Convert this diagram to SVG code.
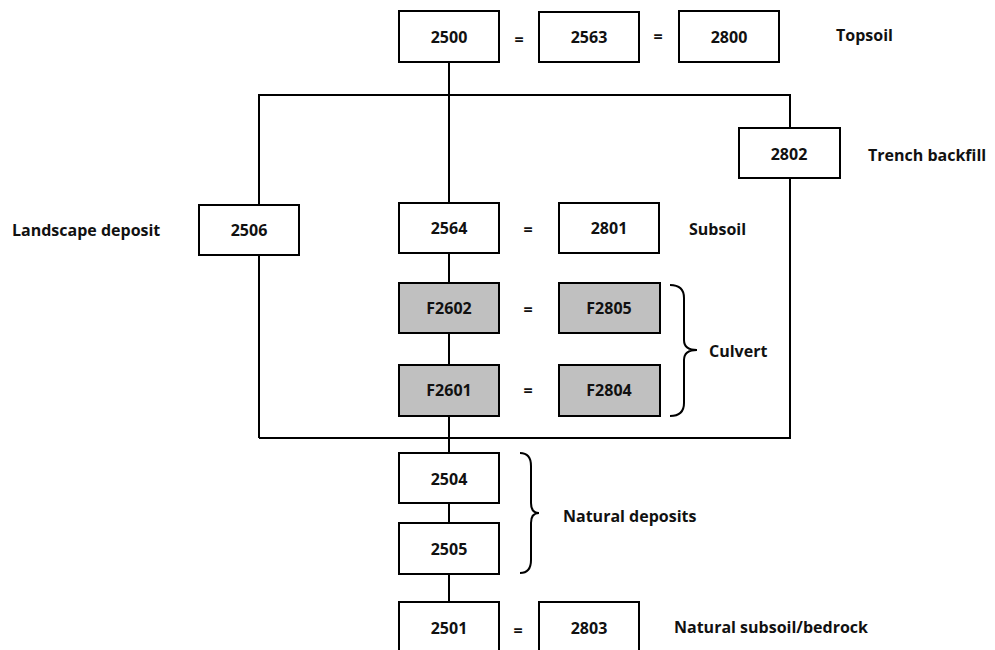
<svg xmlns="http://www.w3.org/2000/svg" width="995" height="650" viewBox="0 0 995 650">
<style>
.box{fill:#fff;stroke:#000;stroke-width:2}
.grey{fill:#c0c0c0;stroke:#000;stroke-width:2}
.ln{fill:none;stroke:#000;stroke-width:2}
.t{font-family:"Open Sans","Liberation Sans",sans-serif;font-weight:bold;font-size:16px;fill:#111;dominant-baseline:central}
.c{text-anchor:middle}
</style>
<rect width="995" height="650" fill="#fff"/>
<g id="connectors">
<path class="ln" d="M449,62 V203"/>
<path class="ln" d="M259,438 V255 M259,205 V95 H790 V128 M790,178 V438 H259"/>
<path class="ln" d="M449,253 V283 M449,333 V365 M449,416 V453 M449,503 V523 M449,574 V602"/>
<path class="ln" d="M670,285 Q684,285 684,298 V340 Q684,350 697,350 Q684,350 684,360 V403 Q684,416 670,416"/>
<path class="ln" d="M520,453 Q531,453 531,466 V503 Q531,513 539,513 Q531,513 531,523 V560 Q531,573 520,573"/>
</g>
<g id="n2500"><rect class="box" x="399" y="11" width="100" height="51"/><text class="t c" x="449" y="37">2500</text></g>
<text class="t c" x="519" y="39">=</text>
<g id="n2563"><rect class="box" x="539" y="12" width="100" height="50"/><text class="t c" x="589" y="37">2563</text></g>
<text class="t c" x="658" y="36">=</text>
<g id="n2800"><rect class="box" x="679" y="11" width="100" height="51"/><text class="t c" x="729" y="37">2800</text></g>
<text class="t" x="836" y="35">Topsoil</text>
<g id="n2802"><rect class="box" x="739" y="128" width="101" height="50"/><text class="t c" x="789" y="154">2802</text></g>
<text class="t" x="868" y="155">Trench backfill</text>
<text class="t" x="12" y="230">Landscape deposit</text>
<g id="n2506"><rect class="box" x="199" y="205" width="100" height="50"/><text class="t c" x="249" y="230">2506</text></g>
<g id="n2564"><rect class="box" x="399" y="203" width="100" height="50"/><text class="t c" x="449" y="228">2564</text></g>
<text class="t c" x="528" y="229">=</text>
<g id="n2801"><rect class="box" x="559" y="203" width="100" height="50"/><text class="t c" x="609" y="228">2801</text></g>
<text class="t" x="689" y="229">Subsoil</text>
<g id="nF2602"><rect class="grey" x="399" y="283" width="100" height="50"/><text class="t c" x="449" y="308">F2602</text></g>
<text class="t c" x="528" y="309">=</text>
<g id="nF2805"><rect class="grey" x="559" y="283" width="101" height="50"/><text class="t c" x="609" y="308">F2805</text></g>
<g id="nF2601"><rect class="grey" x="399" y="365" width="100" height="51"/><text class="t c" x="449" y="390">F2601</text></g>
<text class="t c" x="528" y="390">=</text>
<g id="nF2804"><rect class="grey" x="559" y="365" width="101" height="51"/><text class="t c" x="609" y="390">F2804</text></g>
<text class="t" x="709" y="351">Culvert</text>
<g id="n2504"><rect class="box" x="399" y="453" width="100" height="50"/><text class="t c" x="449" y="479">2504</text></g>
<g id="n2505"><rect class="box" x="399" y="523" width="100" height="51"/><text class="t c" x="449" y="549">2505</text></g>
<text class="t" x="563" y="516">Natural deposits</text>
<g id="n2501"><rect class="box" x="399" y="602" width="100" height="52"/><text class="t c" x="449" y="628">2501</text></g>
<text class="t c" x="518" y="630">=</text>
<g id="n2803"><rect class="box" x="539" y="602" width="100" height="52"/><text class="t c" x="589" y="628">2803</text></g>
<text class="t" x="674" y="627">Natural subsoil/bedrock</text>
</svg>
